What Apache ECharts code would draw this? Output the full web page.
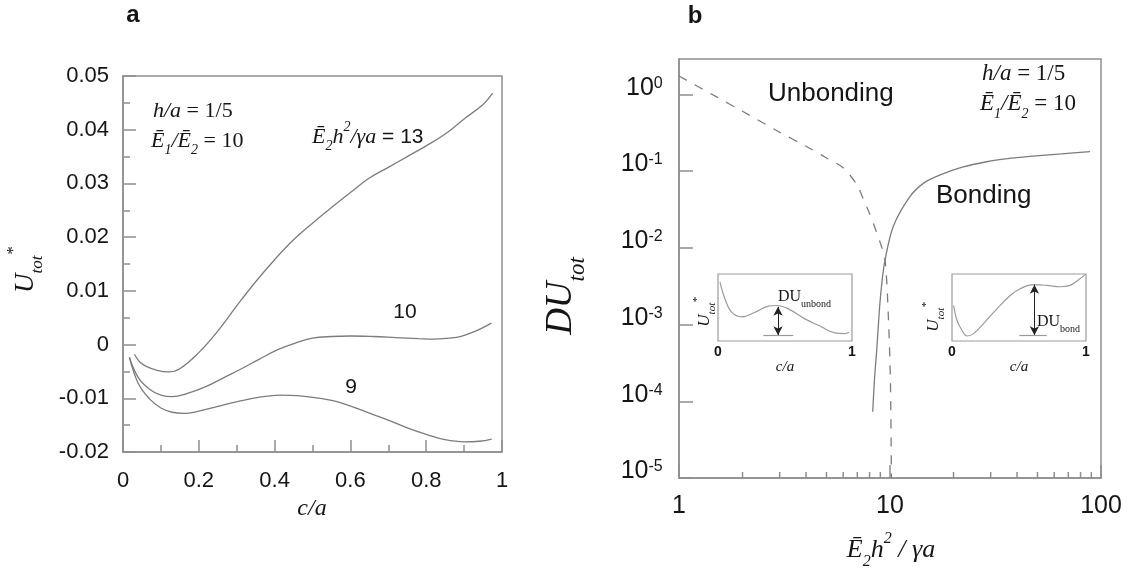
<!DOCTYPE html>
<html>
<head>
<meta charset="utf-8">
<script src="https://cdn.jsdelivr.net/npm/echarts@6/dist/echarts.min.js"></script>
<style>
  html, body { margin: 0; padding: 0; background: #ffffff; }
  #chart { width: 1138px; height: 571px; }
</style>
</head>
<body>
<div id="chart"></div>
<script>
// ---- Panel a: total energy U*tot against crack length c/a ----
const energy13 = [[0.03,-0.0018],[0.045,-0.0033],[0.06,-0.0040],[0.09,-0.0048],[0.12,-0.0051],[0.15,-0.0045],[0.2,-0.0015],[0.25,0.0025],[0.3,0.0072],[0.35,0.0117],[0.4,0.0158],[0.45,0.0195],[0.5,0.0226],[0.55,0.0255],[0.6,0.0283],[0.65,0.031],[0.7,0.033],[0.75,0.035],[0.8,0.037],[0.85,0.0392],[0.9,0.042],[0.95,0.0447],[0.975,0.0468]];
const energy10 = [[0.017,-0.0024],[0.04,-0.0061],[0.07,-0.0083],[0.1,-0.0094],[0.13,-0.0097],[0.17,-0.0091],[0.22,-0.0078],[0.27,-0.006],[0.31,-0.0046],[0.36,-0.0027],[0.41,-0.0009],[0.46,0.0004],[0.5,0.0012],[0.55,0.0015],[0.6,0.0016],[0.66,0.0015],[0.72,0.0013],[0.78,0.0011],[0.82,0.001],[0.86,0.0012],[0.89,0.0015],[0.93,0.0025],[0.972,0.004]];
const energy9 = [[0.017,-0.0024],[0.04,-0.0072],[0.07,-0.0101],[0.1,-0.0118],[0.13,-0.0126],[0.16,-0.0128],[0.2,-0.0124],[0.25,-0.0115],[0.31,-0.0105],[0.36,-0.0098],[0.414,-0.0094],[0.46,-0.0095],[0.52,-0.0100],[0.573,-0.0108],[0.64,-0.0125],[0.705,-0.0142],[0.75,-0.0155],[0.8,-0.0167],[0.85,-0.0177],[0.9,-0.0181],[0.94,-0.018],[0.973,-0.0176]];

// ---- Panel b: energy barrier DU_tot against E2 h^2 / (gamma a) ----
const unbondingBarrier = [[1,1.73],[1.5,0.93],[2,0.6],[3,0.32],[4,0.21],[5,0.148],[6,0.11],[7,0.065],[7.5,0.042],[8,0.028],[8.5,0.018],[9,0.0115],[9.47,0.0071],[9.82,0.0013],[10.05,0.00017],[10.15,0.00001]];
const bondingBarrier = [[8.28,0.000073],[8.45,0.0002],[8.65,0.00046],[8.9,0.0015],[9.14,0.0034],[9.47,0.0069],[10.37,0.019],[12.4,0.046],[14.5,0.07],[17.3,0.089],[22,0.112],[28.7,0.132],[36,0.145],[46,0.155],[65,0.167],[88.7,0.179]];
const logMinorTicks = [2,3,4,5,6,7,8,9,20,30,40,50,60,70,80,90];

// ---- Sketches of U*tot(c/a) for the two barrier kinds ----
const sketchUnbond = [[0.015,0.88],[0.052,0.63],[0.102,0.43],[0.177,0.36],[0.276,0.43],[0.375,0.52],[0.438,0.53],[0.525,0.48],[0.649,0.33],[0.774,0.21],[0.873,0.12],[0.948,0.11],[0.978,0.13]];
const sketchBond = [[0.012,0.53],[0.037,0.31],[0.074,0.16],[0.112,0.075],[0.161,0.11],[0.235,0.26],[0.335,0.48],[0.434,0.68],[0.509,0.78],[0.608,0.84],[0.707,0.83],[0.806,0.81],[0.881,0.83],[0.943,0.91],[0.993,0.99]];
// [c/a of arrow, top of arrow, bottom level, baseline start, baseline end]
const unbondArrow = [0.448, 0.51, 0.085, 0.339, 0.562];
const bondArrow = [0.615, 0.84, 0.085, 0.503, 0.707];

const SANS = 'Liberation Sans, Arial, sans-serif';
const SERIF = 'Liberation Serif, Times New Roman, serif';
const INK = '#151515';
const AXIS = '#8e8e8e';
const CURVE = '#7c7c7c';

function mathStyles(size) {
  const L = Math.round(size * 1.5);
  const small = Math.round(size * 0.62);
  return {
    i:  { fontFamily: SERIF, fontStyle: 'italic', fontSize: size, lineHeight: L, verticalAlign: 'middle', fill: INK, color: INK },
    r:  { fontFamily: SERIF, fontSize: size, lineHeight: L, verticalAlign: 'middle', fill: INK, color: INK },
    s:  { fontFamily: SANS, fontSize: Math.round(size * 0.95), lineHeight: L, verticalAlign: 'middle', fill: INK, color: INK },
    sb: { fontFamily: SERIF, fontStyle: 'italic', fontSize: small, lineHeight: small, verticalAlign: 'bottom', fill: INK, color: INK },
    su: { fontFamily: SERIF, fontSize: small, lineHeight: small, verticalAlign: 'bottom', fill: INK, color: INK },
    sp: { fontFamily: SERIF, fontStyle: 'italic', fontSize: small, lineHeight: Math.round(size * 0.8), verticalAlign: 'top', fill: INK, color: INK }
  };
}

function mathText(x, y, text, size, rotation, align) {
  return {
    type: 'text', x: x, y: y, rotation: rotation || 0, silent: true,
    style: { text: text, rich: mathStyles(size), align: align || 'left', verticalAlign: 'middle', fill: INK }
  };
}

function plainText(x, y, text, size, opts) {
  return {
    type: 'text', x: x, y: y, silent: true,
    style: Object.assign({ text: text, fontFamily: SANS, fontSize: size, fill: INK, align: 'left', verticalAlign: 'middle' }, opts || {})
  };
}

const axisLine = { show: true, onZero: false, lineStyle: { color: AXIS, width: 1.5 } };
const tickStyle = { color: AXIS, width: 1.5 };

function sketchSeries(idx, data, arrow) {
  return {
    type: 'line', xAxisIndex: idx, yAxisIndex: idx, data: data, smooth: 0.4,
    showSymbol: false, silent: true, lineStyle: { color: '#9a9a9a', width: 1.2 },
    markLine: {
      silent: true, animation: false, label: { show: false },
      symbol: ['arrow', 'arrow'], symbolSize: [7, 9],
      lineStyle: { color: '#222', width: 1, type: 'solid' },
      data: [
        [{ coord: [arrow[0], arrow[1]] }, { coord: [arrow[0], arrow[2]] }],
        [{ coord: [arrow[3], arrow[2]], symbol: 'none', lineStyle: { color: '#999', width: 1.2 } },
         { coord: [arrow[4], arrow[2]], symbol: 'none' }]
      ]
    }
  };
}

function sketchXAxis(idx) {
  return {
    gridIndex: idx, type: 'value', min: 0, max: 1, interval: 1,
    axisLine: { show: false, onZero: false }, axisTick: { show: false }, splitLine: { show: false },
    axisLabel: { fontFamily: SANS, fontSize: 14, fontWeight: 'bold', color: INK, margin: 4 },
    name: 'c/a', nameLocation: 'middle', nameGap: 5,
    nameTextStyle: { fontFamily: SERIF, fontStyle: 'italic', fontSize: 15, color: INK, verticalAlign: 'top' }
  };
}

// decade labels: "10" with a raised exponent; the tiny spacer sets the line box
const logRich = {
  b: { fontFamily: SANS, fontSize: 25, color: INK, lineHeight: 35, verticalAlign: 'top' },
  s: { fontFamily: SANS, fontSize: 16, color: INK, lineHeight: 15, verticalAlign: 'top' },
  z: { fontSize: 1, lineHeight: 38, verticalAlign: 'top' }
};

const option = {
  animation: false,
  backgroundColor: '#ffffff',
  grid: [
    { left: 123, top: 76, width: 379, height: 376, show: true, borderColor: AXIS, borderWidth: 1.5, backgroundColor: 'transparent' },
    { left: 679, top: 59, width: 422, height: 419, show: true, borderColor: AXIS, borderWidth: 1.5, backgroundColor: 'transparent' },
    { left: 718, top: 274, width: 134, height: 67, show: true, borderColor: '#9c9c9c', borderWidth: 1.2, backgroundColor: '#ffffff' },
    { left: 952, top: 274, width: 134, height: 67, show: true, borderColor: '#9c9c9c', borderWidth: 1.2, backgroundColor: '#ffffff' }
  ],
  xAxis: [
    {
      gridIndex: 0, type: 'value', min: 0, max: 1, interval: 0.2,
      axisLine: axisLine, splitLine: { show: false },
      axisTick: { inside: true, length: 12, lineStyle: tickStyle },
      minorTick: { show: true, splitNumber: 2, length: 7, lineStyle: tickStyle },
      axisLabel: { fontFamily: SANS, fontSize: 22, color: INK, margin: 18, formatter: v => String(Number(v.toFixed(2))) }
    },
    {
      gridIndex: 1, type: 'log', logBase: 10, min: 1, max: 100,
      axisLine: axisLine, splitLine: { show: false },
      axisTick: { inside: true, length: 13, lineStyle: tickStyle },
      axisLabel: { fontFamily: SANS, fontSize: 25, color: INK, margin: 16, formatter: v => String(Math.round(v)) }
    },
    sketchXAxis(2),
    sketchXAxis(3)
  ],
  yAxis: [
    {
      gridIndex: 0, type: 'value', min: -0.02, max: 0.05, interval: 0.01,
      axisLine: axisLine, splitLine: { show: false },
      axisTick: { inside: true, length: 13, lineStyle: tickStyle },
      minorTick: { show: true, splitNumber: 2, length: 7, lineStyle: tickStyle },
      axisLabel: { fontFamily: SANS, fontSize: 22, color: INK, margin: 14, formatter: v => String(Number(v.toFixed(3))) }
    },
    {
      gridIndex: 1, type: 'log', logBase: 10, min: 0.00001, max: 2.88,
      axisLine: axisLine, splitLine: { show: false },
      axisTick: { inside: true, length: 14, lineStyle: tickStyle },
      axisLabel: {
        margin: 16, showMaxLabel: false, rich: logRich,
        formatter: function (v) {
          const e = Math.log10(v);
          const r = Math.round(e);
          if (Math.abs(e - r) > 0.01) return '';
          return '{b|10}{s|' + r + '}{z| }';
        }
      }
    },
    { gridIndex: 2, type: 'value', min: 0, max: 1, show: false },
    { gridIndex: 3, type: 'value', min: 0, max: 1, show: false }
  ],
  series: [
    { type: 'line', xAxisIndex: 0, yAxisIndex: 0, data: energy13, smooth: 0.4, showSymbol: false, silent: true, lineStyle: { color: CURVE, width: 1.3 } },
    { type: 'line', xAxisIndex: 0, yAxisIndex: 0, data: energy10, smooth: 0.4, showSymbol: false, silent: true, lineStyle: { color: CURVE, width: 1.3 } },
    { type: 'line', xAxisIndex: 0, yAxisIndex: 0, data: energy9, smooth: 0.4, showSymbol: false, silent: true, lineStyle: { color: CURVE, width: 1.3 } },
    { type: 'line', xAxisIndex: 1, yAxisIndex: 1, data: unbondingBarrier, smooth: 0.3, showSymbol: false, silent: true, lineStyle: { color: CURVE, width: 1.3, type: [9, 9] } },
    { type: 'line', xAxisIndex: 1, yAxisIndex: 1, data: bondingBarrier, smooth: 0.3, showSymbol: false, silent: true, lineStyle: { color: CURVE, width: 1.3 } },
    {
      type: 'custom', xAxisIndex: 1, yAxisIndex: 1, silent: true, clip: false,
      data: logMinorTicks.map(v => [v, 0.00001]),
      renderItem: function (params, api) {
        const p = api.coord([api.value(0), api.value(1)]);
        return { type: 'line', shape: { x1: p[0], y1: p[1], x2: p[0], y2: p[1] - 6 }, style: { stroke: AXIS, lineWidth: 1.5 } };
      }
    },
    sketchSeries(2, sketchUnbond, unbondArrow),
    sketchSeries(3, sketchBond, bondArrow)
  ],
  graphic: [
    plainText(133, 15, 'a', 24, { fontWeight: 'bold', align: 'center' }),
    plainText(695, 16, 'b', 24, { fontWeight: 'bold', align: 'center' }),

    // panel a annotations
    mathText(153, 111, '{i|h/a}{r| = 1/5}', 22),
    mathText(151, 141, '{i|Ē}{sb|1}{i|/Ē}{sb|2}{r| = 10}', 22),
    mathText(312, 137, '{i|Ē}{sb|2}{i|h}{sp|2}{i|/γa}{s| = 13}', 22),
    plainText(405, 312, '10', 21, { align: 'center' }),
    plainText(351, 387, '9', 21, { align: 'center' }),
    mathText(26, 270, '{i|U}{sb|tot}{sp|*}', 27, Math.PI / 2, 'center'),
    mathText(312, 509, '{i|c/a}', 24, 0, 'center'),

    // panel b annotations
    plainText(768, 94, 'Unbonding', 26),
    plainText(936, 196, 'Bonding', 26),
    mathText(982, 74, '{i|h/a}{r| = 1/5}', 23),
    mathText(980, 104, '{i|Ē}{sb|1}{i|/Ē}{sb|2}{r| = 10}', 23),
    mathText(561, 296, '{i|DU}{sb|tot}', 37, Math.PI / 2, 'center'),
    mathText(891, 550, '{i|Ē}{sb|2}{i|h}{sp|2}{i| / γa}', 26, 0, 'center'),

    // sketch annotations
    mathText(778, 297, '{r|DU}{su|unbond}', 16),
    mathText(1037, 322, '{r|DU}{su|bond}', 16),
    mathText(705, 312, '{i|U}{sb|tot}{sp|*}', 17, Math.PI / 2, 'center'),
    mathText(934, 317, '{i|U}{sb|tot}{sp|*}', 17, Math.PI / 2, 'center')
  ]
};

const chart = echarts.init(document.getElementById('chart'), null, { renderer: 'canvas' });
chart.setOption(option);
</script>
</body>
</html>
